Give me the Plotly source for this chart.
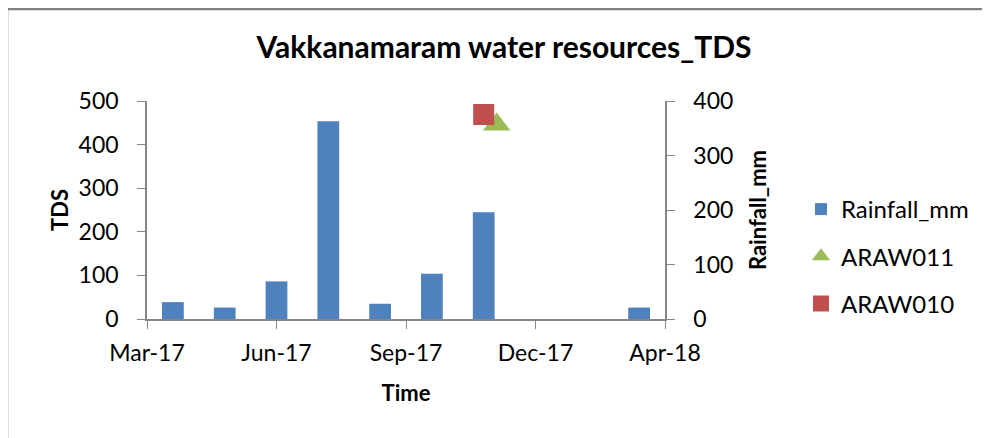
import plotly.graph_objects as go

# monthly slots on the time axis (0 = first slot)
rain_slot = [0, 1, 2, 3, 4, 5, 6, 9]
rainfall_mm = [31, 21, 69, 363, 28, 83, 196, 21]

araw011_slot = [6.25]
araw011_tds = [446]
araw010_slot = [6]
araw010_tds = [469]

x_tick_vals = [-0.5, 2.0, 4.5, 7.0, 9.5]
x_tick_text = ["Mar-17", "Jun-17", "Sep-17", "Dec-17", "Apr-18"]

FONT = "Lato, Calibri, sans-serif"
AXIS_GREY = "#868686"

# figure size leaves room for the 8px body margin of the page
W, H = 982, 430
# plot area in figure pixels
L, R, T, B = 139, 657, 93, 311
PW, PH = R - L, B - T

fig = go.Figure()

fig.add_trace(go.Bar(
    x=rain_slot,
    y=rainfall_mm,
    name="Rainfall_mm",
    legendgroup="rain",
    marker=dict(color="#4F81BD", line=dict(width=0)),
    width=0.42,
    yaxis="y2",
))

fig.add_trace(go.Scatter(
    x=araw011_slot,
    y=araw011_tds,
    mode="markers",
    name="ARAW011",
    legendgroup="a11",
    marker=dict(symbol="triangle-up", size=24, color="#9BBB59"),
))

fig.add_trace(go.Scatter(
    x=araw010_slot,
    y=araw010_tds,
    mode="markers",
    name="ARAW010",
    legendgroup="a10",
    marker=dict(symbol="square", size=21, color="#C0504D"),
))

fig.update_layout(
    width=W,
    height=H,
    margin=dict(l=L, r=W - R, t=T, b=H - B),
    paper_bgcolor="white",
    plot_bgcolor="white",
    font=dict(family=FONT, size=23, color="black"),
    title=dict(
        text="<b>Vakkanamaram water resources_TDS</b>",
        x=496 / W, xanchor="center",
        y=1 - 39 / H, yanchor="middle",
        font=dict(size=30),
    ),
    xaxis=dict(
        range=[-0.5, 9.5],
        tickvals=x_tick_vals,
        ticktext=x_tick_text,
        ticks="outside", ticklen=8, tickcolor=AXIS_GREY,
        ticklabelstandoff=5,
        showline=True, linecolor=AXIS_GREY, linewidth=1.5,
        showgrid=False, zeroline=False,
        title=dict(text="<b>Time</b>", font=dict(size=22), standoff=20),
    ),
    yaxis=dict(
        range=[0, 500],
        tickvals=[0, 100, 200, 300, 400, 500],
        ticks="outside", ticklen=8, tickcolor=AXIS_GREY,
        ticklabelstandoff=14,
        showline=True, linecolor=AXIS_GREY, linewidth=1.5,
        showgrid=False, zeroline=False,
        title=dict(text="<b>TDS</b>", font=dict(size=22), standoff=4),
    ),
    yaxis2=dict(
        range=[0, 400],
        tickvals=[0, 100, 200, 300, 400],
        overlaying="y", side="right",
        ticks="outside", ticklen=8, tickcolor=AXIS_GREY,
        ticklabelstandoff=14,
        showline=True, linecolor=AXIS_GREY, linewidth=1.5,
        showgrid=False, zeroline=False,
        title=dict(text="<b>Rainfall_mm</b>", font=dict(size=22), standoff=18),
    ),
    legend=dict(
        x=793 / W, xanchor="left", xref="container",
        y=1 - 179 / H, yanchor="top", yref="container",
        font=dict(size=24),
        tracegroupgap=13,
        bgcolor="rgba(0,0,0,0)",
    ),
    showlegend=True,
    barmode="overlay",
)

# outer chart border (left and top edges visible)
bx = (-1 - L) / PW
by = 1 + (T - 1) / PH
fig.add_shape(type="line", xref="paper", yref="paper",
              x0=bx, x1=bx, y0=-1, y1=by,
              line=dict(color="#808080", width=2.5))
fig.add_shape(type="line", xref="paper", yref="paper",
              x0=bx, x1=(W + 20 - L) / PW, y0=by, y1=by,
              line=dict(color="#808080", width=2.5))

fig.write_html("out.html", config={"displayModeBar": False})
